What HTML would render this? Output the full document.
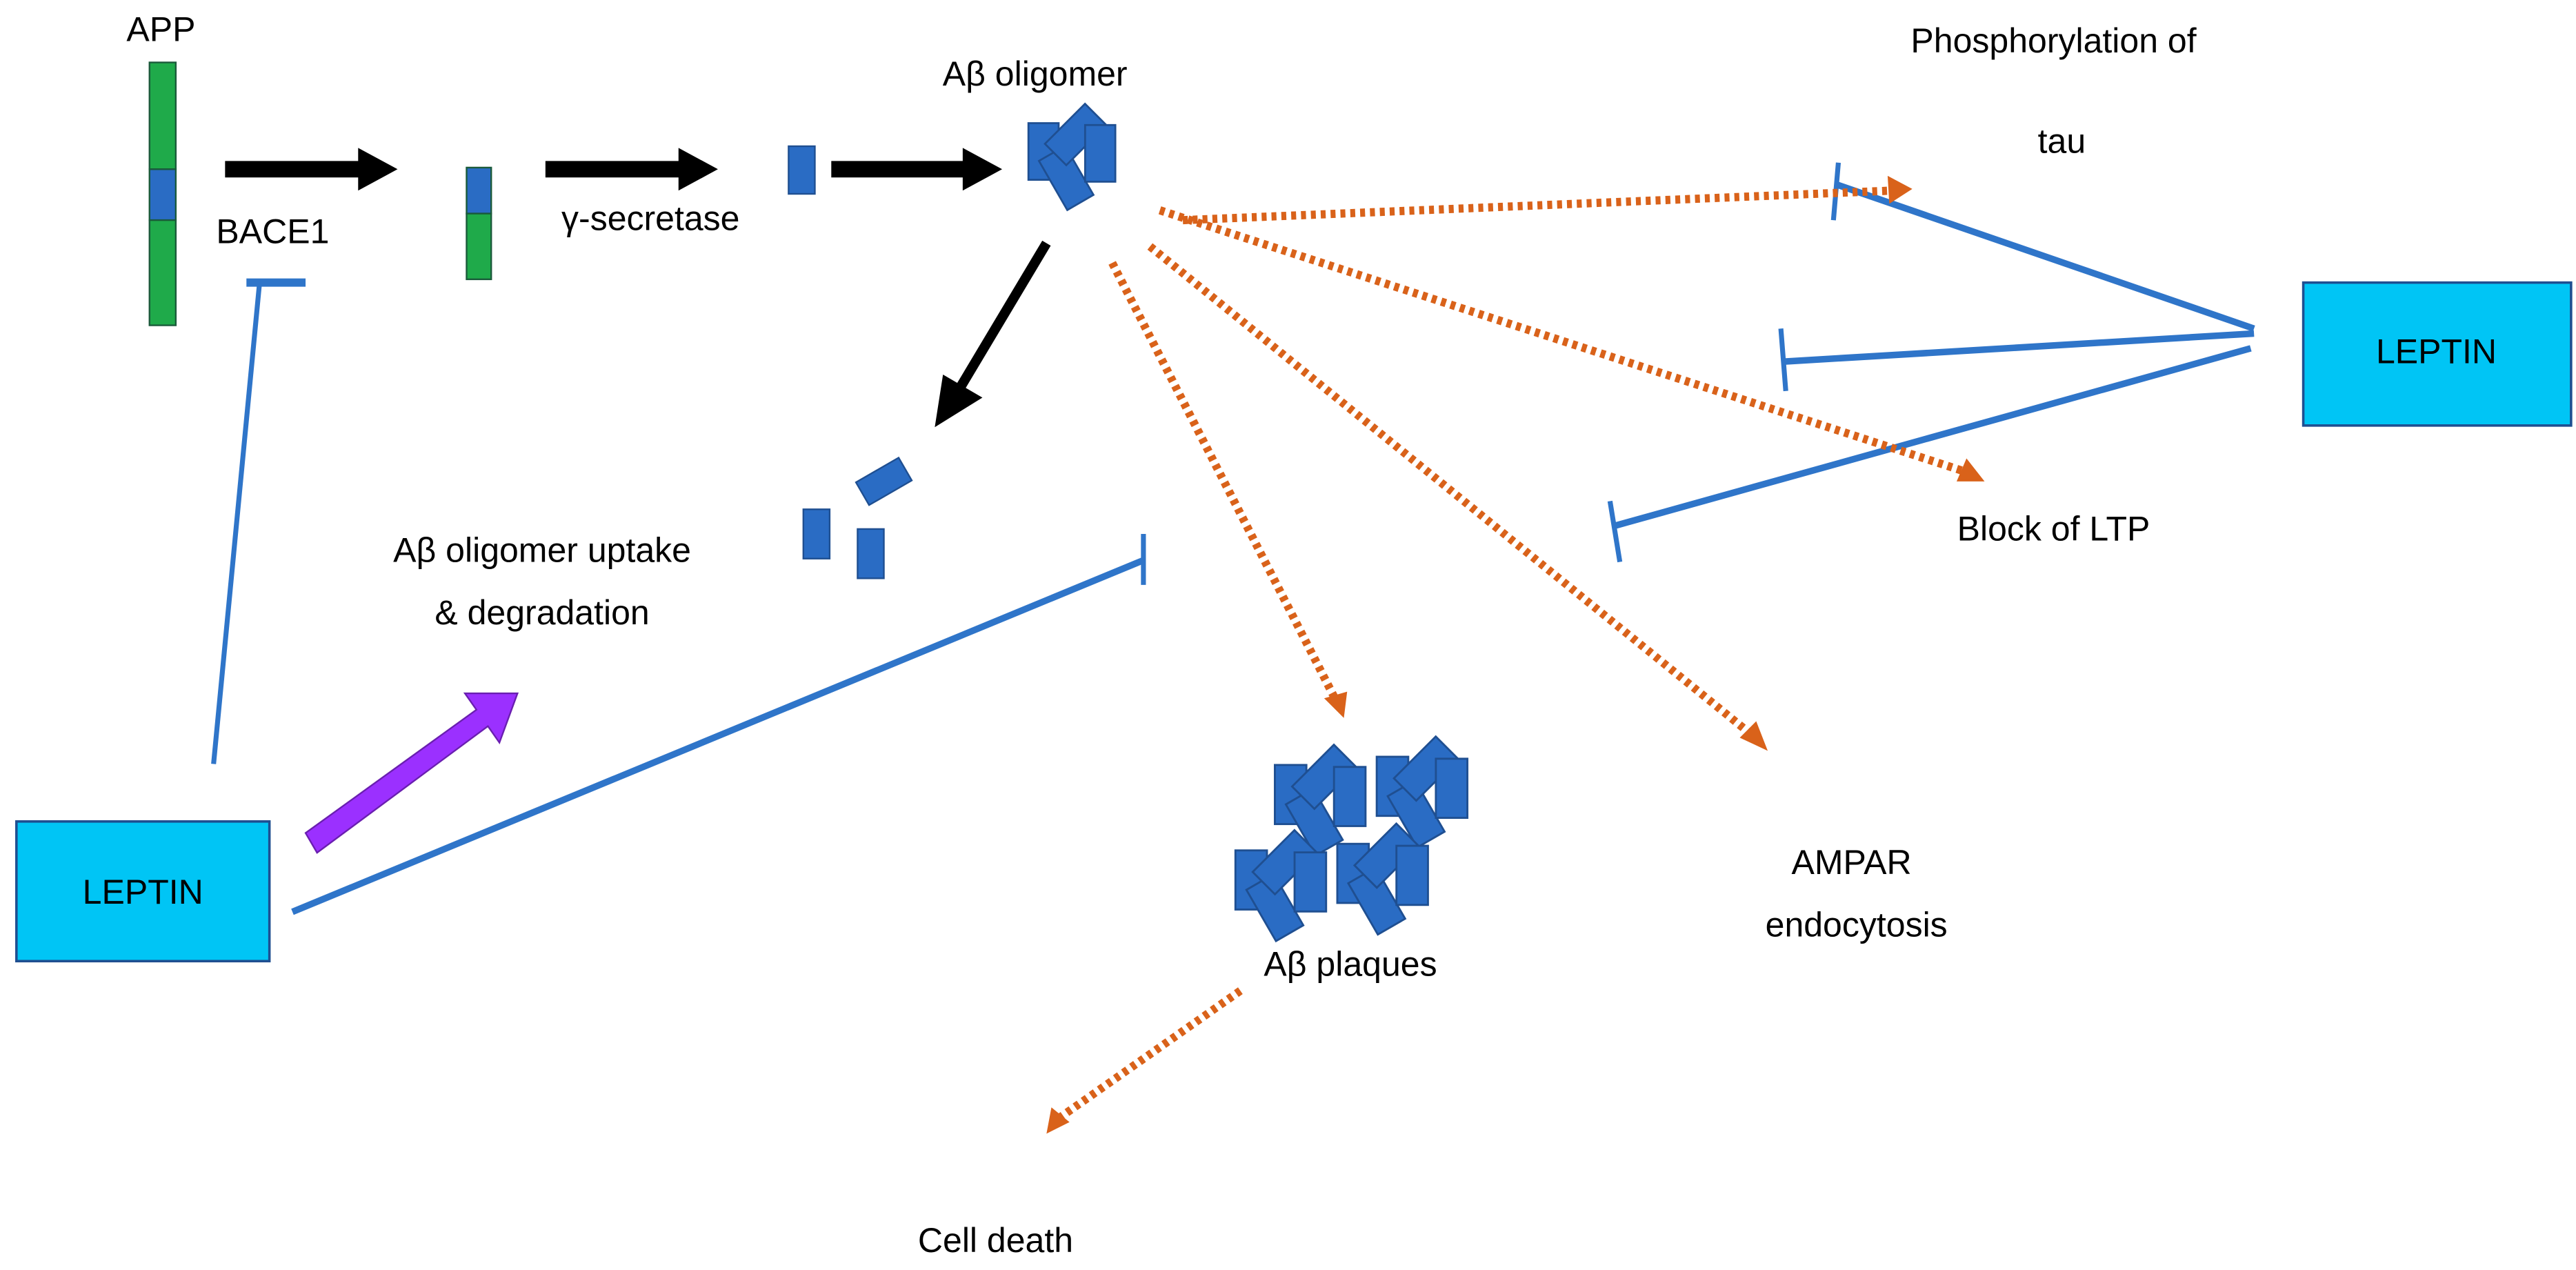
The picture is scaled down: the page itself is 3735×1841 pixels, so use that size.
<!DOCTYPE html>
<html><head><meta charset="utf-8"><style>
html,body{margin:0;padding:0;background:#fff}
svg{display:block}
text{font-family:"Liberation Sans",sans-serif;font-size:21px;fill:#000}
</style></head><body>
<svg width="3735" height="1841" viewBox="0 0 1568 773" preserveAspectRatio="none" xmlns="http://www.w3.org/2000/svg">
<defs>
<g id="olig" fill="#2a6cc4" stroke="#1f4f91" stroke-width="1">
<rect x="0" y="13" width="16" height="30"/>
<rect x="12" y="27" width="16" height="30" transform="rotate(-30 20 42)"/>
<rect x="17" y="4" width="16" height="30" transform="rotate(45 25 19)"/>
<rect x="30" y="14" width="16" height="30"/>
</g>
</defs>
<text x="98" y="25" text-anchor="middle">APP</text>
<rect x="91" y="38" width="16" height="65" fill="#1faa4a" stroke="#1a5a3a"/>
<rect x="91" y="103" width="16" height="31" fill="#2a6cc4" stroke="#1a5a3a"/>
<rect x="91" y="134" width="16" height="64" fill="#1faa4a" stroke="#1a5a3a"/>
<g fill="#000">
<polygon points="137,98 218,98 218,90 242,103 218,116 218,108 137,108"/>
<polygon points="332,98 413,98 413,90 437,103 413,116 413,108 332,108"/>
<polygon points="506,98 586,98 586,90 610,103 586,116 586,108 506,108"/>
</g>
<text x="166" y="148" text-anchor="middle">BACE1</text>
<rect x="284" y="102" width="15" height="28" fill="#2a6cc4" stroke="#1a5a3a"/>
<rect x="284" y="130" width="15" height="40" fill="#1faa4a" stroke="#1a5a3a"/>
<text x="396" y="140" text-anchor="middle">γ-secretase</text>
<rect x="480" y="89" width="16" height="29" fill="#2a6cc4" stroke="#1f4f91"/>
<text x="630" y="52" text-anchor="middle">Aβ oligomer</text>
<use href="#olig" transform="translate(626,60) scale(1.15)"/>
<line x1="637" y1="148" x2="585" y2="235" stroke="#000" stroke-width="6"/>
<polygon points="569,260 574,228 598,242" fill="#000"/>
<rect x="530" y="278" width="16" height="30" fill="#2a6cc4" stroke="#1f4f91" transform="rotate(60 538 293)"/>
<rect x="489" y="310" width="16" height="30" fill="#2a6cc4" stroke="#1f4f91"/>
<rect x="522" y="322" width="16" height="30" fill="#2a6cc4" stroke="#1f4f91"/>
<text x="330" y="342" text-anchor="middle">Aβ oligomer uptake</text>
<text x="330" y="380" text-anchor="middle">&amp; degradation</text>
<g stroke="#2f75c9" fill="none">
<line x1="158" y1="172" x2="130" y2="465" stroke-width="3"/>
<line x1="150" y1="172" x2="186" y2="172" stroke-width="5"/>
<line x1="178" y1="555" x2="696" y2="341" stroke-width="4"/>
<line x1="696" y1="325" x2="696" y2="356" stroke-width="3"/>
<line x1="1372" y1="200" x2="1117" y2="112" stroke-width="4"/>
<line x1="1119" y1="99" x2="1116" y2="134" stroke-width="3"/>
<line x1="1372" y1="203" x2="1087" y2="220" stroke-width="4"/>
<line x1="1084" y1="200" x2="1087" y2="238" stroke-width="3"/>
<line x1="1370" y1="212" x2="983" y2="320" stroke-width="4"/>
<line x1="980" y1="305" x2="986" y2="342" stroke-width="3"/>
</g>
<polygon points="186,507 290,432 283,422 315,422 304,452 297,442 193,519" fill="#9b30ff" stroke="#6a1fb0" stroke-width="1"/>
<rect x="10" y="500" width="154" height="85" fill="#00c5f5" stroke="#1f4f91" stroke-width="1.5"/>
<text x="87" y="550" text-anchor="middle">LEPTIN</text>
<rect x="1402" y="172" width="163" height="87" fill="#00c5f5" stroke="#1f4f91" stroke-width="1.5"/>
<text x="1483" y="221" text-anchor="middle">LEPTIN</text>
<g stroke="#d9621a" stroke-width="5" stroke-dasharray="3 3" fill="none">
<line x1="720" y1="134" x2="1152" y2="116"/>
<line x1="706" y1="128" x2="1196" y2="287"/>
<line x1="700" y1="150" x2="1066" y2="447"/>
<line x1="677" y1="160" x2="812" y2="424"/>
<line x1="755" y1="603" x2="644" y2="681"/>
</g>
<g fill="#d9621a">
<polygon points="1164,115 1149,107 1150,124"/>
<polygon points="1208,293 1191,293 1197,279"/>
<polygon points="1076,457 1059,449 1069,439"/>
<polygon points="818,437 806,425 820,421"/>
<polygon points="637,690 640,674 651,683"/>
</g>
<text x="1250" y="32" text-anchor="middle">Phosphorylation of</text>
<text x="1255" y="93" text-anchor="middle">tau</text>
<text x="1250" y="329" text-anchor="middle">Block of LTP</text>
<text x="1127" y="532" text-anchor="middle">AMPAR</text>
<text x="1130" y="570" text-anchor="middle">endocytosis</text>
<use href="#olig" transform="translate(776,450) scale(1.2)"/>
<use href="#olig" transform="translate(838,445) scale(1.2)"/>
<use href="#olig" transform="translate(752,502) scale(1.2)"/>
<use href="#olig" transform="translate(814,498) scale(1.2)"/>
<text x="822" y="594" text-anchor="middle">Aβ plaques</text>
<text x="606" y="762" text-anchor="middle">Cell death</text>
</svg>
</body></html>
